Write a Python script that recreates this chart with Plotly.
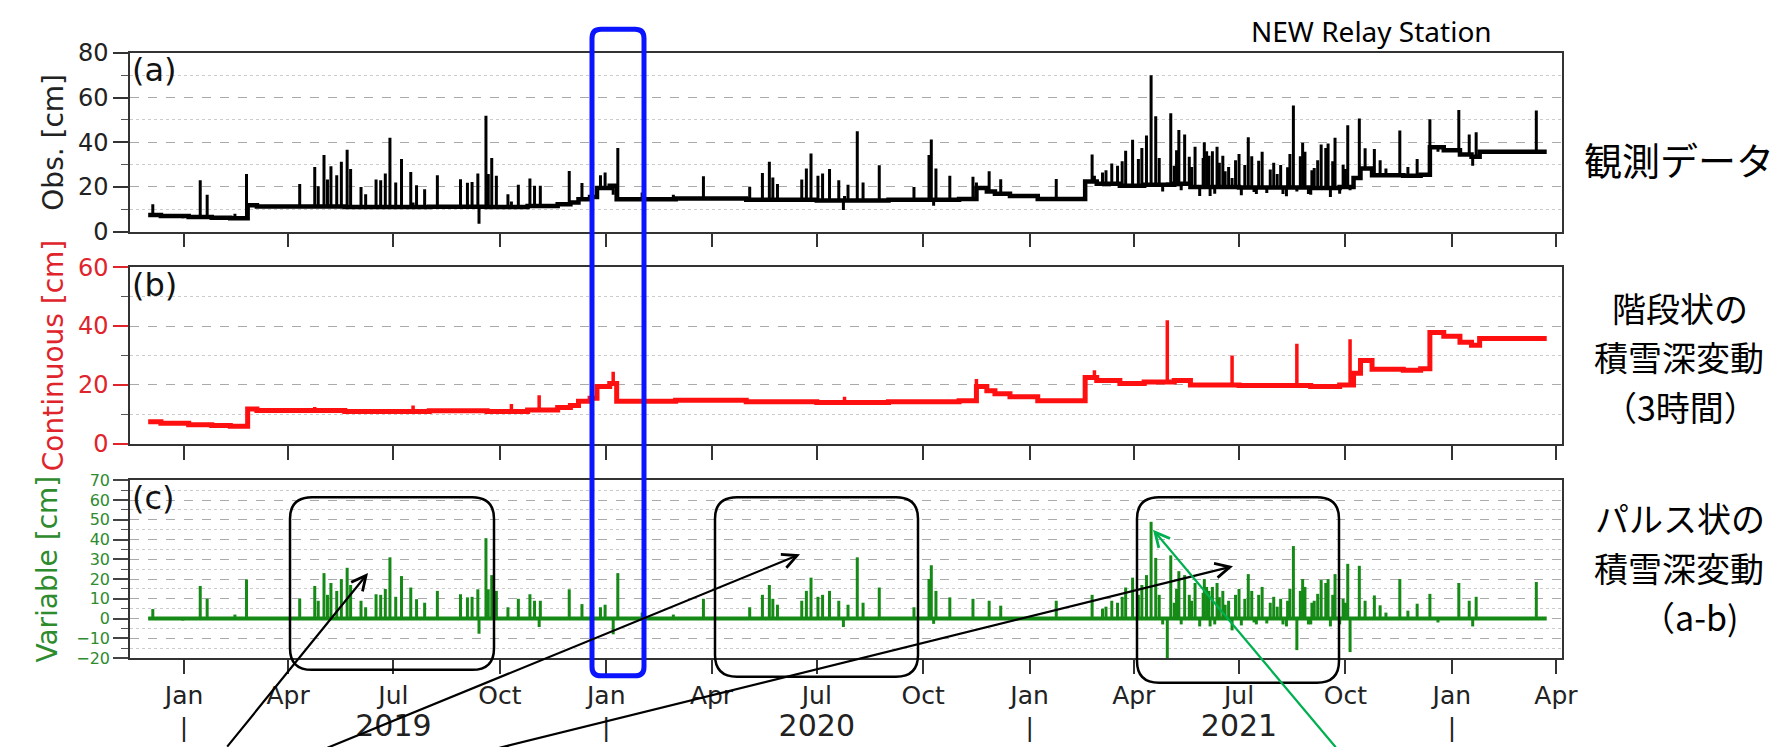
import plotly.graph_objects as go
import pandas as pd
from bisect import bisect_right

# ------------------------------------------------------------------ data
# step-like baseline of the snow depth (panel b, red)
cont_dates = [
    "2018-12-01", "2018-12-12", "2019-01-05", "2019-01-25", "2019-02-10", "2019-02-25",
    "2019-03-05", "2019-05-20", "2019-08-01", "2019-09-20", "2019-10-25", "2019-11-20",
    "2019-12-01", "2019-12-08", "2019-12-18", "2019-12-24", "2020-01-04", "2020-01-10",
    "2020-03-01", "2020-05-01", "2020-07-01", "2020-09-01", "2020-11-01", "2020-11-16",
    "2020-11-25", "2020-12-02", "2020-12-15", "2021-01-08", "2021-02-18", "2021-02-28",
    "2021-03-20", "2021-04-10", "2021-05-06", "2021-05-20", "2021-07-01", "2021-09-01",
    "2021-09-26", "2021-10-08", "2021-10-14", "2021-10-24", "2021-11-20", "2021-12-05",
    "2021-12-13", "2021-12-25", "2022-01-08", "2022-01-18", "2022-01-25", "2022-03-24",
]
cont_values = [
    7.5, 7.0, 6.5, 6.2, 6.0, 11.8,
    11.3, 11.0, 11.2, 11.0, 11.5, 12.3,
    13.0, 14.5, 15.5, 19.5, 20.5, 14.5,
    14.8, 14.3, 14.0, 14.3, 14.6, 19.5,
    18.0, 17.0, 16.0, 14.6, 22.5, 21.5,
    20.5, 21.0, 21.5, 20.0, 19.8, 19.5,
    20.0, 24.0, 28.3, 25.3, 25.0, 25.5,
    37.8, 36.5, 34.5, 33.5, 35.8, 35.8,
]

# isolated excursions of the continuous series (panel b)
red_spike_dates = [
    "2019-04-24", "2019-07-18", "2019-10-11", "2019-11-04", "2020-01-07", "2020-07-25",
    "2020-11-16", "2021-02-26", "2021-04-30", "2021-06-25", "2021-08-20", "2021-10-05",
]
red_spike_values = [12.5, 13.0, 13.5, 16.5, 24.5, 16.0, 22.0, 25.0, 42.0, 30.0, 34.0, 35.5]

# pulse-like variations (panel c, green)
var_dates = [
    "2018-12-05", "2018-12-31", "2019-01-15", "2019-01-21", "2019-02-14", "2019-02-24",
    "2019-04-11", "2019-04-24", "2019-04-27", "2019-05-02", "2019-05-05", "2019-05-08",
    "2019-05-13", "2019-05-17", "2019-05-22", "2019-05-25", "2019-06-03", "2019-06-07",
    "2019-06-16", "2019-06-20", "2019-06-24", "2019-06-28", "2019-07-03", "2019-07-08",
    "2019-07-16", "2019-07-21", "2019-07-28", "2019-08-08", "2019-08-28", "2019-09-03",
    "2019-09-07", "2019-09-12", "2019-09-13", "2019-09-19", "2019-09-21", "2019-09-24",
    "2019-09-28", "2019-10-08", "2019-10-17", "2019-10-27", "2019-10-31", "2019-11-04",
    "2019-11-05", "2019-11-30", "2019-12-11", "2019-12-27", "2019-12-31", "2020-01-07",
    "2020-01-11", "2020-02-01", "2020-02-28", "2020-03-25", "2020-05-04", "2020-05-15",
    "2020-05-21", "2020-05-24", "2020-05-28", "2020-06-18", "2020-06-22", "2020-06-26",
    "2020-07-02", "2020-07-06", "2020-07-12", "2020-07-20", "2020-07-24", "2020-07-28",
    "2020-08-05", "2020-08-10", "2020-08-24", "2020-09-23", "2020-10-06", "2020-10-08",
    "2020-10-10", "2020-10-12", "2020-10-24", "2020-11-13", "2020-11-27", "2020-12-07",
    "2021-01-24", "2021-02-24", "2021-03-05", "2021-03-08", "2021-03-13", "2021-03-18",
    "2021-03-22", "2021-03-25", "2021-03-31", "2021-04-05", "2021-04-08", "2021-04-12",
    "2021-04-16", "2021-04-20", "2021-04-23", "2021-04-26", "2021-04-30", "2021-05-03",
    "2021-05-06", "2021-05-08", "2021-05-10", "2021-05-12", "2021-05-15", "2021-05-19",
    "2021-05-21", "2021-05-24", "2021-05-28", "2021-05-31", "2021-06-01", "2021-06-03",
    "2021-06-05", "2021-06-06", "2021-06-08", "2021-06-10", "2021-06-12", "2021-06-14",
    "2021-06-17", "2021-06-19", "2021-06-22", "2021-06-25", "2021-06-28", "2021-07-01",
    "2021-07-03", "2021-07-06", "2021-07-09", "2021-07-12", "2021-07-14", "2021-07-16",
    "2021-07-18", "2021-07-21", "2021-07-25", "2021-07-28", "2021-07-31", "2021-08-03",
    "2021-08-06", "2021-08-08", "2021-08-11", "2021-08-12", "2021-08-14", "2021-08-17",
    "2021-08-20", "2021-08-23", "2021-08-25", "2021-08-27", "2021-08-30", "2021-09-01",
    "2021-09-02", "2021-09-04", "2021-09-07", "2021-09-10", "2021-09-14", "2021-09-16",
    "2021-09-18", "2021-09-20", "2021-09-22", "2021-09-26", "2021-09-29", "2021-10-01",
    "2021-10-03", "2021-10-05", "2021-10-13", "2021-10-18", "2021-10-26", "2021-10-31",
    "2021-11-05", "2021-11-17", "2021-11-24", "2021-12-02", "2021-12-13", "2021-12-20",
    "2022-01-07", "2022-01-16", "2022-01-19", "2022-01-22", "2022-03-15",
]
var_values = [
    4.8, -1.0, 16.5, 10.0, 2.0, 19.8,
    10.0, 16.5, 9.0, 23.0, 12.0, 18.0,
    14.0, 20.0, 25.7, 17.0, 9.0, 5.7,
    12.3, 12.0, 15.0, 31.0, 11.0, 21.5,
    15.7, 9.8, 8.0, 14.0, 12.3, 10.7,
    11.0, 14.8, -7.7, 40.7, 14.8, 22.0,
    14.0, 5.7, 10.0, 12.3, 9.0, -4.3,
    9.0, 14.8, 7.3, 5.7, 7.0, -8.0,
    23.0, 3.0, 2.0, 10.0, 5.7, 12.0,
    17.0, 10.0, 7.0, 9.0, 14.0, 20.7,
    11.0, 12.0, 14.0, 9.0, -4.3, 7.0,
    31.0, 8.0, 15.7, 5.7, 20.0, 27.0,
    -2.7, 14.0, 10.7, 10.0, 9.0, 6.5,
    9.0, 12.0, 5.0, 6.0, 9.0, 8.0,
    11.0, 15.7, 20.7, 12.0, 17.0, 22.0,
    49.0, 30.7, 12.0, -3.0, -20.0, 32.0,
    8.0, 15.0, 24.0, -3.0, 22.0, 12.0,
    9.0, 18.0, -4.0, 13.0, 20.0, 16.0,
    14.0, -4.0, 16.0, -3.0, 18.0, 10.8,
    14.0, 7.0, 9.0, -6.0, 12.0, 15.0,
    -3.5, 10.0, 22.5, 14.0, -2.0, -3.0,
    12.0, 16.0, -2.5, 8.0, 11.0, 6.0,
    10.0, -3.0, -4.0, 9.0, 15.0, 36.7,
    -16.0, 14.0, 20.0, 16.0, -3.0, -3.0,
    8.0, 9.0, 12.5, 19.5, 18.0, 20.0,
    -4.0, 12.0, 22.5, -3.0, 10.0, 8.0,
    27.7, -17.0, 26.7, 9.0, 11.7, 6.7,
    3.0, 20.0, 4.0, 7.5, 12.5, -2.0,
    18.0, 9.0, -4.0, 11.0, 18.5,
]

tick_dates = [
    "2019-01-01", "2019-04-01", "2019-07-01", "2019-10-01",
    "2020-01-01", "2020-04-01", "2020-07-01", "2020-10-01",
    "2021-01-01", "2021-04-01", "2021-07-01", "2021-10-01",
    "2022-01-01", "2022-04-01",
]
tick_months = ["Jan", "Apr", "Jul", "Oct"] * 3 + ["Jan", "Apr"]
year_dates = ["2019-07-01", "2020-07-01", "2021-07-01"]
year_names = ["2019", "2020", "2021"]

# ------------------------------------------------------------------ helpers
cd = list(pd.to_datetime(cont_dates))
red_map = dict(zip(pd.to_datetime(red_spike_dates), red_spike_values))
var_map = dict(zip(pd.to_datetime(var_dates), var_values))


def base_level(d):
    i = bisect_right(cd, d) - 1
    return cont_values[max(i, 0)]


# obs spikes (panel a): from baseline to baseline-with-excursion + variation
a_x, a_y = [], []
for d in sorted(set(red_map) | set(var_map)):
    b0 = base_level(d)
    top = red_map.get(d, b0) + var_map.get(d, 0.0)
    a_x += [d, d, None]
    a_y += [b0, top, None]

b_x, b_y = [], []
for d, v in red_map.items():
    b_x += [d, d, None]
    b_y += [base_level(d), v, None]

c_x, c_y = [], []
for d, v in var_map.items():
    c_x += [d, d, None]
    c_y += [0.0, v, None]

# ------------------------------------------------------------------ figure
W, H = 1785, 747
ML, MR, MT, MB = 122, 231, 45, 89
PW, PH = W - ML - MR, H - MT - MB


def px(x):
    return (x - ML) / PW


def py(y):
    return (H - MB - y) / PH


BLACK = "#000000"
RED = "#ff1010"
RED_T = "#e0242c"
GREEN = "#168a16"
GREEN_T = "#2e8b2e"
TICK_FONT = "DejaVu Sans"

fig = go.Figure()

fig.add_trace(go.Scatter(x=cont_dates, y=cont_values, mode="lines", line_shape="hv",
                         line=dict(color=BLACK, width=4.5), xaxis="x", yaxis="y",
                         showlegend=False, hoverinfo="skip"))
fig.add_trace(go.Scatter(x=a_x, y=a_y, mode="lines", line=dict(color=BLACK, width=3),
                         xaxis="x", yaxis="y", showlegend=False, hoverinfo="skip"))

fig.add_trace(go.Scatter(x=cont_dates, y=cont_values, mode="lines", line_shape="hv",
                         line=dict(color=RED, width=5), xaxis="x2", yaxis="y2",
                         showlegend=False, hoverinfo="skip"))
fig.add_trace(go.Scatter(x=b_x, y=b_y, mode="lines", line=dict(color=RED, width=3.5),
                         xaxis="x2", yaxis="y2", showlegend=False, hoverinfo="skip"))

fig.add_trace(go.Scatter(x=[cont_dates[0], cont_dates[-1]], y=[0, 0], mode="lines",
                         line=dict(color=GREEN, width=4), xaxis="x3", yaxis="y3",
                         showlegend=False, hoverinfo="skip"))
fig.add_trace(go.Scatter(x=c_x, y=c_y, mode="lines", line=dict(color=GREEN, width=3),
                         xaxis="x3", yaxis="y3", showlegend=False, hoverinfo="skip"))

# tick texts
ticktext = []
for d, m in zip(tick_dates, tick_months):
    if d in year_dates:
        yr = year_names[year_dates.index(d)]
        ticktext.append(m + "<br><span style='font-size:30px'>" + yr + "</span>")
    elif m == "Jan":
        ticktext.append(m + "<br>|")
    else:
        ticktext.append(m)

xrange = ["2018-11-15 07:00", "2022-04-06 05:00"]
xcommon = dict(type="date", range=xrange, tickvals=tick_dates, ticks="outside",
               ticklen=14, tickwidth=1.5, tickcolor="#333333", showline=True,
               mirror=True, linecolor="#333333", linewidth=1.5, showgrid=False,
               zeroline=False)

dom_a = [py(226), 1.0]
dom_b = [py(441), py(262)]
dom_c = [0.0, py(478)]


def yax(domain, rng, dtick, minor, title, color, tcolor, tsize, anchor, standoff):
    return dict(domain=domain, range=rng, dtick=dtick, tick0=0, anchor=anchor,
                ticks="outside", ticklen=15, tickwidth=1.5, tickcolor=tcolor,
                tickfont=dict(family=TICK_FONT, size=tsize, color=color),
                showline=True, mirror=True, linecolor="#333333", linewidth=1.5,
                showgrid=True, gridcolor="#aaaaaa", griddash="dash", gridwidth=1,
                zeroline=False,
                minor=dict(dtick=minor, ticks="outside", ticklen=7, tickwidth=1.2,
                           tickcolor="#555555", showgrid=True, gridcolor="#cccccc",
                           griddash="dot", gridwidth=1),
                title=dict(text=title, font=dict(family=TICK_FONT, size=28, color=color),
                           standoff=standoff))


fig.update_layout(
    width=W, height=H,
    margin=dict(l=ML, r=MR, t=MT, b=MB),
    paper_bgcolor="white", plot_bgcolor="white",
    showlegend=False,
    xaxis=dict(xcommon, anchor="y", showticklabels=False),
    xaxis2=dict(xcommon, anchor="y2", showticklabels=False, matches="x"),
    xaxis3=dict(xcommon, anchor="y3", showticklabels=True, ticktext=ticktext,
                tickfont=dict(family=TICK_FONT, size=25, color="#222222"), matches="x"),
    yaxis=yax(dom_a, [0, 80], 20, 10, "Obs. [cm]", "#222222", "#333333", 24, "x", 6),
    yaxis2=yax(dom_b, [0, 60], 20, 10, "Continuous [cm]", RED_T, RED_T, 24, "x2", 6),
    yaxis3=yax(dom_c, [-20, 70], 10, 5, "Variable [cm]", GREEN_T, "#444444", 16, "x3", 10),
)

# panel labels
for lab, xr, yr in [("(a)", "x domain", "y domain"), ("(b)", "x2 domain", "y2 domain"),
                    ("(c)", "x3 domain", "y3 domain")]:
    fig.add_annotation(text=lab, xref=xr, yref=yr, x=0.0, y=1.02, xanchor="left",
                       yanchor="top", showarrow=False,
                       font=dict(family=TICK_FONT, size=32, color="#111111"))

# right-hand texts (one line each)
JP = "Noto Sans CJK JP"
right_texts = [
    ("NEW Relay Station", 1363, 23, 28, "Noto Sans"),
    ("観測データ", 1671, 152, 38, JP),
    ("階段状の", 1672, 303, 34, JP),
    ("積雪深変動", 1671, 353, 34, JP),
    ("（3時間）", 1672, 403, 34, JP),
    ("パルス状の", 1672, 516, 34, JP),
    ("積雪深変動", 1671, 566, 34, JP),
    ("（a-b)", 1682, 616, 34, JP),
]
for t, x, y, s, f in right_texts:
    fig.add_annotation(text=t, xref="paper", yref="paper", x=px(x), y=py(y),
                       xanchor="center", yanchor="middle", align="center",
                       showarrow=False, font=dict(family=f, size=s, color="#000000"))


def rrect(x0, y0, x1, y1, r):
    rx, ry = r / PW, r / PH
    X0, X1, Y0, Y1 = px(x0), px(x1), py(y0), py(y1)  # Y0 top, Y1 bottom
    return (f"M {X0+rx},{Y0} L {X1-rx},{Y0} Q {X1},{Y0} {X1},{Y0-ry} "
            f"L {X1},{Y1+ry} Q {X1},{Y1} {X1-rx},{Y1} L {X0+rx},{Y1} "
            f"Q {X0},{Y1} {X0},{Y1+ry} L {X0},{Y0-ry} Q {X0},{Y0} {X0+rx},{Y0} Z")


# blue highlight (Jan 2020)
fig.add_shape(type="path", path=rrect(584, 21, 636, 676, 9), xref="paper", yref="paper",
              line=dict(color="#0a14ff", width=5), layer="above")
# black rounded boxes in panel c
for bx in [(282, 495, 486, 670), (707, 495, 910, 677), (1129, 495, 1331, 683)]:
    fig.add_shape(type="path", path=rrect(*bx, 22), xref="paper", yref="paper",
                  line=dict(color="#000000", width=2.5), layer="above")

# arrows (tail pixel -> head pixel)
arrows = [
    ((218, 747), (360, 572), "#000000"),
    ((318, 747), (792, 553), "#000000"),
    ((490, 747), (1225, 565), "#000000"),
    ((1329, 747), (1145, 528), "#00b050"),
]
for (tx, ty), (hx, hy), col in arrows:
    fig.add_annotation(x=px(hx), y=py(hy), xref="paper", yref="paper", text="",
                       showarrow=True, ax=tx - hx, ay=ty - hy, axref="pixel",
                       ayref="pixel", arrowhead=5, arrowsize=1.3, arrowwidth=2.2,
                       arrowcolor=col, standoff=0)

fig.write_html("out.html")
